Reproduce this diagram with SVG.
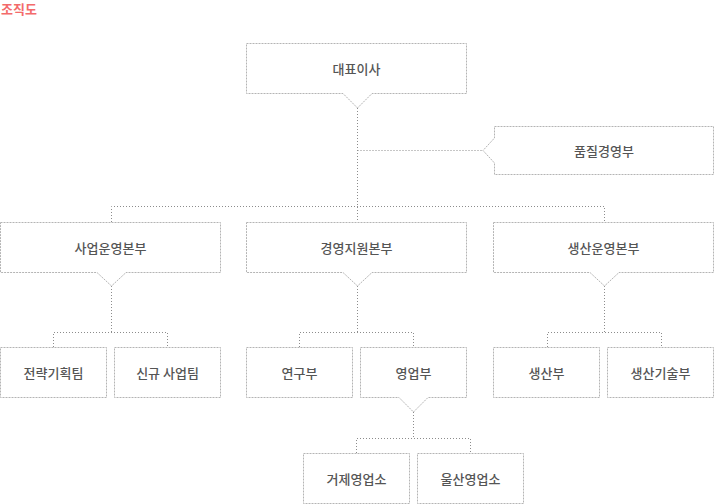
<svg xmlns="http://www.w3.org/2000/svg" width="714" height="504" viewBox="0 0 714 504">
<style>
.box{fill:#fff;stroke:#b4b4b4;stroke-width:1;stroke-dasharray:2 1}
.con{fill:none;stroke:#8c8c8c;stroke-width:1;stroke-dasharray:1 2}
.lbl{font-family:"Noto Sans CJK KR","Noto Sans",sans-serif;font-size:13px;font-weight:500;fill:#555;text-anchor:middle}
.title{font-family:"Noto Sans CJK KR","Noto Sans",sans-serif;font-size:13px;font-weight:bold;fill:#f36b6b}
</style>
<rect width="714" height="504" fill="#fff"/>
<text class="title" x="1" y="13.5">조직도</text>
<g id="connectors">
<path class="con" d="M357.5,108 V222"/>
<path class="con" d="M357.5,150.5 H483"/>
<path class="con" d="M111.5,222 V206.5 H604.5 V222"/>
<path class="con" d="M111.5,286 V332.5"/>
<path class="con" d="M53.5,347 V332.5 H167.5 V347"/>
<path class="con" d="M357.5,286 V332.5"/>
<path class="con" d="M299.5,347 V332.5 H413.5 V347"/>
<path class="con" d="M604.5,286 V332.5"/>
<path class="con" d="M547.5,347 V332.5 H661.5 V347"/>
<path class="con" d="M413.5,412 V438.5"/>
<path class="con" d="M356.5,453 V438.5 H470.5 V453"/>
</g>
<g id="n-ceo">
<path class="box" d="M246.5,43.5 H466.5 V93.5 H372 L357.5,108 L343,93.5 H246.5 Z"/>
<text class="lbl" x="356.5" y="74">대표이사</text>
</g>
<g id="n-quality">
<path class="box" d="M494.5,126.5 H713.5 V174.5 H494.5 V163 L483,150.5 L494.5,138 Z"/>
<text class="lbl" x="604" y="156">품질경영부</text>
</g>
<g id="n-biz">
<path class="box" d="M0.5,222.5 H220.5 V272.5 H126 L111.5,286 L97,272.5 H0.5 Z"/>
<text class="lbl" x="110.5" y="253">사업운영본부</text>
</g>
<g id="n-mgmt">
<path class="box" d="M246.5,222.5 H466.5 V272.5 H372 L357.5,286 L343,272.5 H246.5 Z"/>
<text class="lbl" x="356.5" y="253">경영지원본부</text>
</g>
<g id="n-prod">
<path class="box" d="M493.5,222.5 H713.5 V272.5 H619 L604.5,286 L590,272.5 H493.5 Z"/>
<text class="lbl" x="603.5" y="253">생산운영본부</text>
</g>
<g id="n-strategy">
<rect class="box" x="0.5" y="347.5" width="106" height="50"/>
<text class="lbl" x="53.5" y="378">전략기획팀</text>
</g>
<g id="n-newbiz">
<rect class="box" x="114.5" y="347.5" width="106" height="50"/>
<text class="lbl" x="167.5" y="378">신규 사업팀</text>
</g>
<g id="n-rnd">
<rect class="box" x="246.5" y="347.5" width="106" height="50"/>
<text class="lbl" x="299.5" y="378">연구부</text>
</g>
<g id="n-sales">
<path class="box" d="M360.5,347.5 H466.5 V397.5 H428 L413.5,412 L399,397.5 H360.5 Z"/>
<text class="lbl" x="413.5" y="378">영업부</text>
</g>
<g id="n-production">
<rect class="box" x="493.5" y="347.5" width="106" height="50"/>
<text class="lbl" x="546.5" y="378">생산부</text>
</g>
<g id="n-prodtech">
<rect class="box" x="607.5" y="347.5" width="106" height="50"/>
<text class="lbl" x="660.5" y="378">생산기술부</text>
</g>
<g id="n-geoje">
<rect class="box" x="303.5" y="453.5" width="106" height="50"/>
<text class="lbl" x="356.5" y="484">거제영업소</text>
</g>
<g id="n-ulsan">
<rect class="box" x="417.5" y="453.5" width="106" height="50"/>
<text class="lbl" x="470.5" y="484">울산영업소</text>
</g>
</svg>
